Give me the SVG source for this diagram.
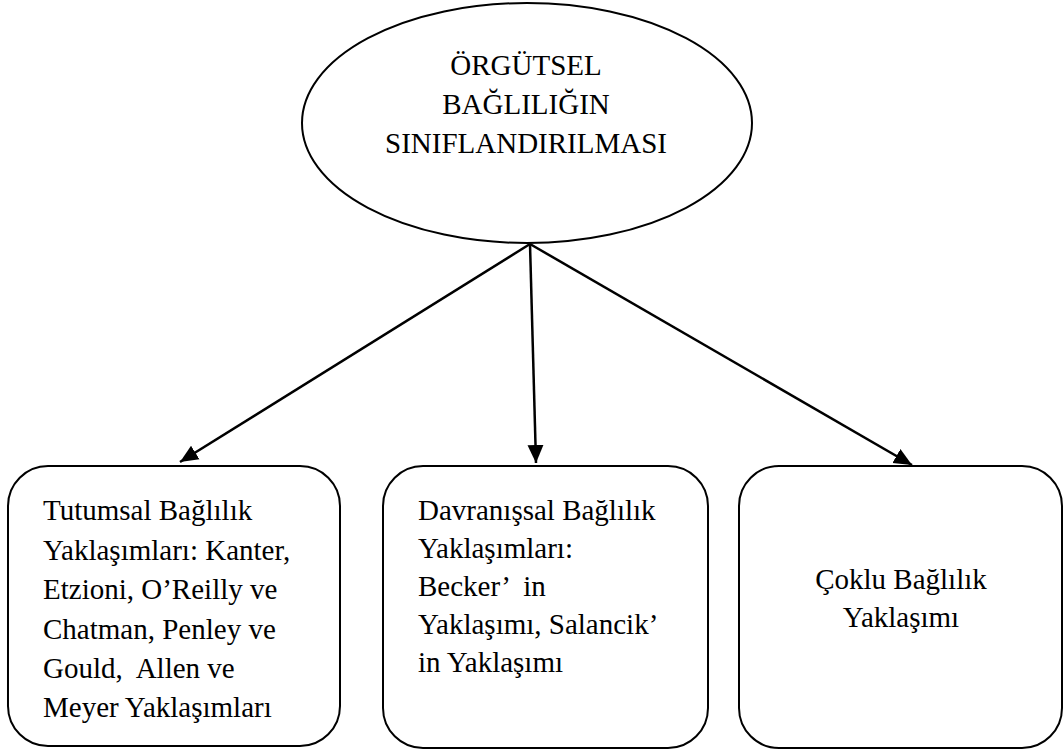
<svg xmlns="http://www.w3.org/2000/svg" width="1064" height="754" viewBox="0 0 1064 754">
<defs>
<style>
text{font-family:'Liberation Serif','Times New Roman',Times,serif;font-size:29px;fill:#000;white-space:pre}
.s{fill:#fff;stroke:#000;stroke-width:2}
.c{stroke:#000;stroke-width:2.5;fill:none;marker-end:url(#ah)}
</style>
<marker id="ah" markerUnits="userSpaceOnUse" markerWidth="20" markerHeight="20" viewBox="0 0 20 20" refX="18" refY="10" orient="auto">
<path d="M0,2 L18,10 L0,18 Z" fill="#000"/>
</marker>
</defs>
<rect width="1064" height="754" fill="#fff"/>
<g id="connectors">
<line class="c" x1="530" y1="244" x2="180" y2="462"/>
<line class="c" x1="530" y1="244" x2="536" y2="463"/>
<line class="c" x1="530" y1="244" x2="912" y2="465"/>
</g>
<g id="root">
<ellipse class="s" cx="527" cy="123" rx="225" ry="120"/>
<text text-anchor="middle" x="526" y="75">ÖRGÜTSEL</text>
<text text-anchor="middle" x="526" y="114">BAĞLILIĞIN</text>
<text text-anchor="middle" x="526" y="153">SINIFLANDIRILMASI</text>
</g>
<g id="tutumsal">
<rect class="s" x="8" y="466" width="332" height="280" rx="40" ry="40"/>
<text x="43" y="520">Tutumsal Bağlılık</text>
<text x="43" y="560">Yaklaşımları: Kanter,</text>
<text x="43" y="599">Etzioni, O’Reilly ve</text>
<text x="43" y="639">Chatman, Penley ve</text>
<text x="43" y="678">Gould,  Allen ve</text>
<text x="43" y="717">Meyer Yaklaşımları</text>
</g>
<g id="davranissal">
<rect class="s" x="383" y="466" width="325" height="282" rx="40" ry="40"/>
<text x="418" y="520">Davranışsal Bağlılık</text>
<text x="418" y="558">Yaklaşımları:</text>
<text x="418" y="596">Becker’  in</text>
<text x="418" y="634">Yaklaşımı, Salancik’</text>
<text x="418" y="672">in Yaklaşımı</text>
</g>
<g id="coklu">
<rect class="s" x="739" y="466" width="323" height="282" rx="40" ry="40"/>
<text text-anchor="middle" x="901" y="589">Çoklu Bağlılık</text>
<text text-anchor="middle" x="901" y="627">Yaklaşımı</text>
</g>
</svg>
